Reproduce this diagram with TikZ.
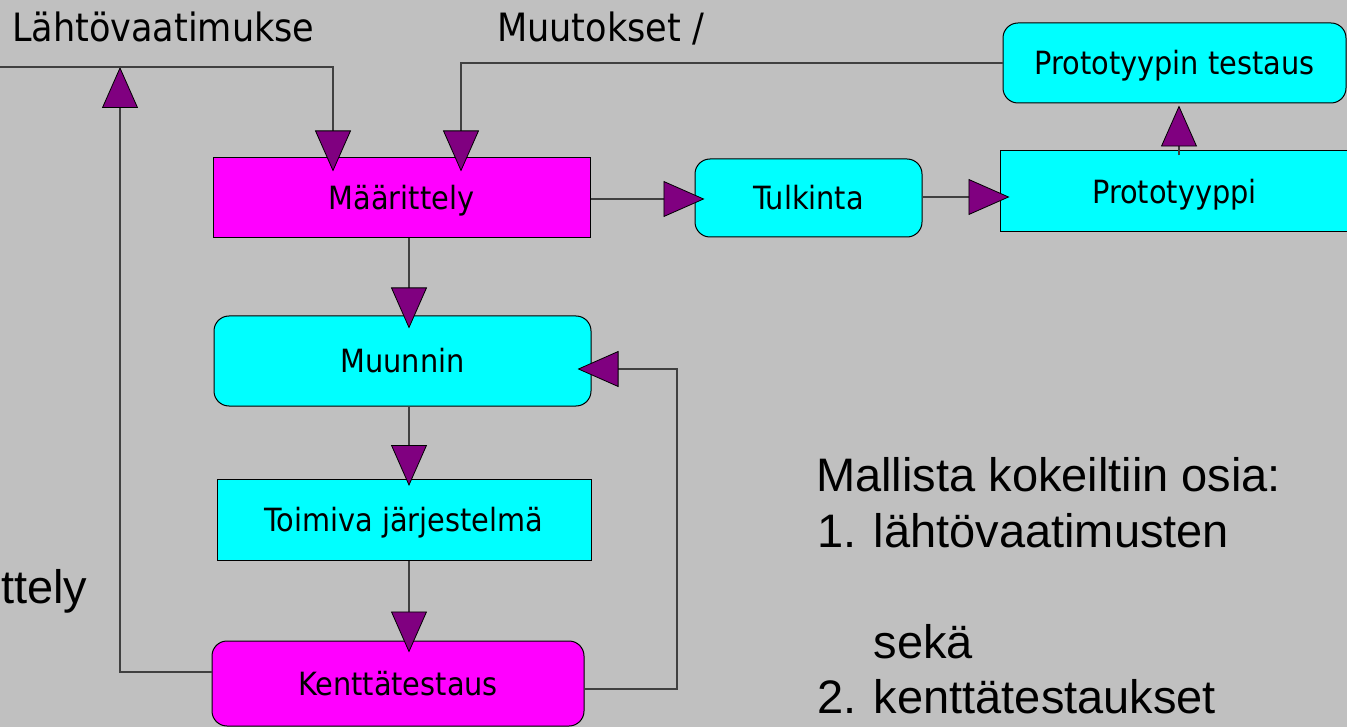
\documentclass[tikz,border=0pt]{standalone}
\usepackage{fontspec}
\setmainfont{Liberation Sans}
\newfontfamily\condfont{DejaVu Sans Condensed}
\usetikzlibrary{arrows.meta}
\definecolor{bg}{RGB}{192,192,192}
\definecolor{linegray}{RGB}{64,64,64}
\definecolor{tipfill}{RGB}{128,0,128}
\definecolor{mag}{RGB}{255,0,255}
\definecolor{cyn}{RGB}{0,255,255}
\begin{document}
\begin{tikzpicture}[x=1pt,y=-1pt,
  box/.style={draw=black, line width=1pt, inner sep=0pt, text height=23.3pt, text depth=0pt,
    font=\condfont\fontsize{32}{38}\selectfont},
  magbox/.style={box, fill=mag},
  cynbox/.style={box, fill=cyn},
  rnd/.style={rounded corners=15pt},
  conn/.style={draw=linegray, line width=1.2pt},
  arr/.style={conn, -{Triangle[length=41pt,width=36pt,fill=tipfill,color=black,line width=0.8pt]}},
  lbl/.style={inner sep=0pt, anchor=base west},
  toplbl/.style={lbl, font=\condfont\fontsize{39}{47}\selectfont},
  biglbl/.style={lbl, font=\fontsize{47}{56}\selectfont}
]
\path[use as bounding box, fill=bg] (0,0) rectangle (1347,727);

% boxes
\node[magbox, minimum width=377pt, minimum height=80pt] (def) at (401.5,198) {Määrittely};
\node[cynbox, rnd, minimum width=227pt, minimum height=78pt] (tulk) at (808.5,198) {Tulkinta};
\node[cynbox, minimum width=349pt, minimum height=81pt] (proto) at (1174.5,191.5) {Prototyyppi};
\node[cynbox, rnd, minimum width=343pt, minimum height=80pt] (test) at (1174.5,63) {Prototyypin testaus};
\node[cynbox, rnd, minimum width=377pt, minimum height=90pt] (muun) at (402.5,361) {Muunnin};
\node[cynbox, minimum width=374pt, minimum height=81pt] (toim) at (404,519.5) {Toimiva järjestelmä};
\node[magbox, rnd, minimum width=372pt, minimum height=85pt] (kent) at (398,683.5) {Kenttätestaus};

% free texts
\node[toplbl] (l1) at (12,42) {Lähtövaatimukse};
\node[toplbl] (l2) at (497,42) {Muutokset /};
\node[biglbl] (l3) at (1,603) {ttely};
\node[biglbl] (m1) at (816,491) {Mallista kokeiltiin osia:};
\node[biglbl] (m2) at (817,547) {1. lähtövaatimusten};
\node[biglbl] (m3) at (817,658) {\phantom{1. }sekä};
\node[biglbl] (m4) at (817,713) {2. kenttätestaukset};

% coordinates
\coordinate (w0) at (0,67);
\coordinate (up) at (120,67);
\coordinate (fb) at (677,369);

% connectors
\draw[arr] ([yshift=11.5pt]kent.west) -| (up);
\draw[arr, shorten >=-14pt] (w0) -| ([xshift=-68.5pt]def.north);
\draw[arr, shorten >=-14pt] (test.west) -| ([xshift=59.5pt]def.north);
\draw[arr, shorten >=-10pt] ([yshift=-1pt]def.east) -- ([yshift=-1pt]def.east -| tulk.west);
\draw[arr, shorten >=-10pt] ([yshift=1pt]tulk.east) -- ([yshift=1pt]tulk.east -| proto.west);
\draw[arr, shorten <=-5pt, shorten >=2pt] ([xshift=4.5pt]proto.north) -- ([xshift=4.5pt]proto.north |- test.south);
\draw[arr, shorten >=-13pt] ([xshift=7.5pt]def.south) -- ([xshift=7.5pt]def.south |- muun.north);
\draw[arr, shorten >=-7.5pt] ([xshift=6.5pt]muun.south) -- ([xshift=6.5pt]muun.south |- toim.north);
\draw[arr, shorten >=-12pt] ([xshift=5pt]toim.south) -- ([xshift=5pt]toim.south |- kent.north);
\draw[arr, shorten >=-14pt] ([yshift=-5.5pt]kent.east) -| (fb) -- (fb -| muun.east);
\end{tikzpicture}
\end{document}
